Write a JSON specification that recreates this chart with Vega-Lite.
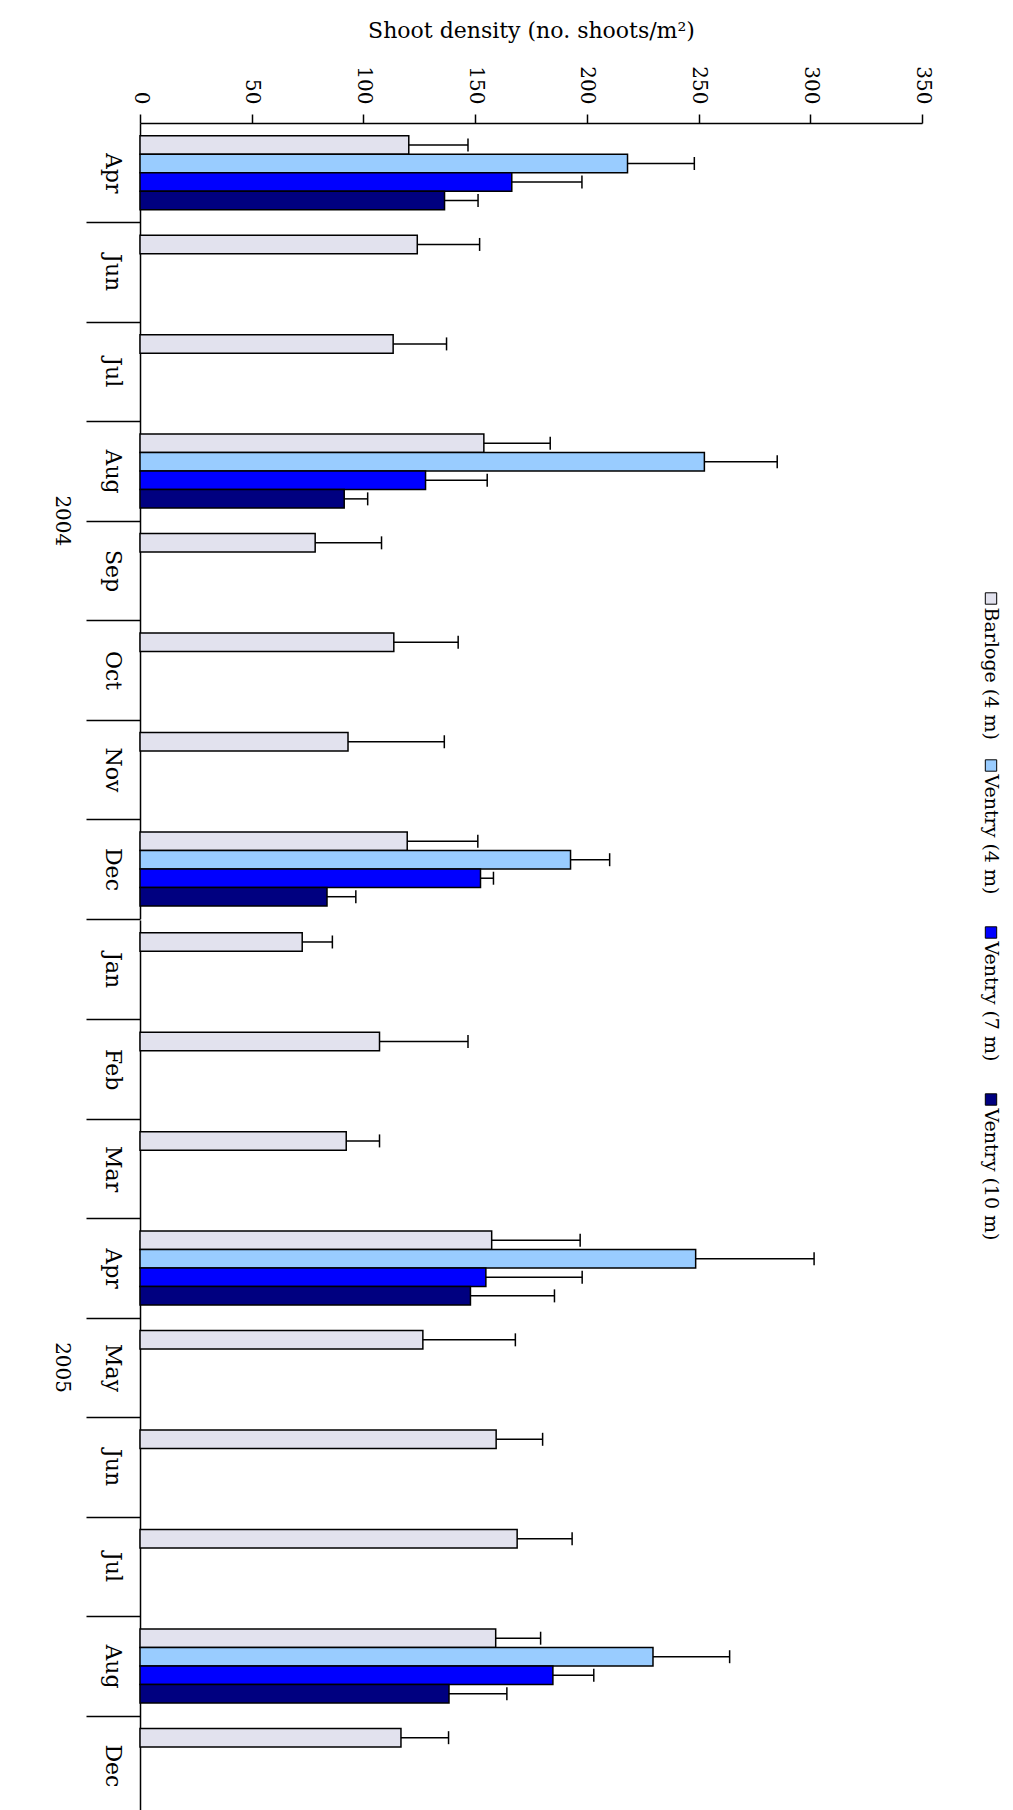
{
  "$schema": "https://vega.github.io/schema/vega-lite/v6.json",
  "background": "white",
  "padding": {"left": 52, "top": 19, "right": 0, "bottom": 0},
  "config": {
    "view": {"stroke": null},
    "font": "DejaVu Serif"
  },
  "datasets": {
    "density": [
      {"year": "2004", "month": "Apr", "site": "Barloge (4 m)", "mean": 120.3, "upper": 146.8},
      {"year": "2004", "month": "Apr", "site": "Ventry (4 m)", "mean": 218.2, "upper": 248.1},
      {"year": "2004", "month": "Apr", "site": "Ventry (7 m)", "mean": 166.4, "upper": 197.8},
      {"year": "2004", "month": "Apr", "site": "Ventry (10 m)", "mean": 136.3, "upper": 151.3},
      {"year": "2004", "month": "Jun", "site": "Barloge (4 m)", "mean": 124.1, "upper": 152.0},
      {"year": "2004", "month": "Jul", "site": "Barloge (4 m)", "mean": 113.3, "upper": 137.2},
      {"year": "2004", "month": "Aug", "site": "Barloge (4 m)", "mean": 153.9, "upper": 183.6},
      {"year": "2004", "month": "Aug", "site": "Ventry (4 m)", "mean": 252.6, "upper": 285.2},
      {"year": "2004", "month": "Aug", "site": "Ventry (7 m)", "mean": 127.8, "upper": 155.4},
      {"year": "2004", "month": "Aug", "site": "Ventry (10 m)", "mean": 91.4, "upper": 101.9},
      {"year": "2004", "month": "Sep", "site": "Barloge (4 m)", "mean": 78.4, "upper": 108.1},
      {"year": "2004", "month": "Oct", "site": "Barloge (4 m)", "mean": 113.6, "upper": 142.4},
      {"year": "2004", "month": "Nov", "site": "Barloge (4 m)", "mean": 93.1, "upper": 136.2},
      {"year": "2004", "month": "Dec", "site": "Barloge (4 m)", "mean": 119.6, "upper": 151.2},
      {"year": "2004", "month": "Dec", "site": "Ventry (4 m)", "mean": 192.7, "upper": 210.2},
      {"year": "2004", "month": "Dec", "site": "Ventry (7 m)", "mean": 152.4, "upper": 158.2},
      {"year": "2004", "month": "Dec", "site": "Ventry (10 m)", "mean": 83.7, "upper": 96.6},
      {"year": "2005", "month": "Jan", "site": "Barloge (4 m)", "mean": 72.6, "upper": 86.1},
      {"year": "2005", "month": "Feb", "site": "Barloge (4 m)", "mean": 107.2, "upper": 146.8},
      {"year": "2005", "month": "Mar", "site": "Barloge (4 m)", "mean": 92.3, "upper": 107.2},
      {"year": "2005", "month": "Apr", "site": "Barloge (4 m)", "mean": 157.4, "upper": 197.0},
      {"year": "2005", "month": "Apr", "site": "Ventry (4 m)", "mean": 248.7, "upper": 301.7},
      {"year": "2005", "month": "Apr", "site": "Ventry (7 m)", "mean": 154.8, "upper": 197.9},
      {"year": "2005", "month": "Apr", "site": "Ventry (10 m)", "mean": 147.9, "upper": 185.5},
      {"year": "2005", "month": "May", "site": "Barloge (4 m)", "mean": 126.6, "upper": 168.0},
      {"year": "2005", "month": "Jun", "site": "Barloge (4 m)", "mean": 159.4, "upper": 180.2},
      {"year": "2005", "month": "Jul", "site": "Barloge (4 m)", "mean": 168.8, "upper": 193.4},
      {"year": "2005", "month": "Aug", "site": "Barloge (4 m)", "mean": 159.2, "upper": 179.3},
      {"year": "2005", "month": "Aug", "site": "Ventry (4 m)", "mean": 229.6, "upper": 263.9},
      {"year": "2005", "month": "Aug", "site": "Ventry (7 m)", "mean": 184.8, "upper": 203.1},
      {"year": "2005", "month": "Aug", "site": "Ventry (10 m)", "mean": 138.3, "upper": 164.2},
      {"year": "2005", "month": "Dec", "site": "Barloge (4 m)", "mean": 116.8, "upper": 138.1}
    ],
    "legendItems": [
      {"site": "Barloge (4 m)"},
      {"site": "Ventry (4 m)"},
      {"site": "Ventry (7 m)"},
      {"site": "Ventry (10 m)"}
    ]
  },
  "hconcat": [
    {
      "data": {"name": "density"},
      "facet": {
        "row": {
          "field": "year", "type": "nominal", "title": null,
          "header": {
            "labelAngle": 90, "labelOrient": "left", "labelAlign": "center", "labelBaseline": "middle",
            "labelPadding": 3, "labelFont": "DejaVu Serif", "labelFontSize": 20, "labelColor": "black"
          }
        }
      },
      "spacing": {"row": 0},
      "resolve": {"scale": {"y": "independent"}},
      "spec": {
        "width": 782,
        "height": {"step": 18.5},
        "layer": [
          {
            "mark": {"type": "bar", "stroke": "black", "strokeWidth": 1.5},
            "encoding": {
              "y": {
                "field": "month", "type": "nominal", "sort": null,
                "scale": {"paddingInner": 0.256, "paddingOuter": 0.128},
                "axis": {
                  "orient": "left", "title": null, "tickSize": 54, "tickOffset": 49.73, "labelOffset": -49.73,
                  "tickColor": "black", "tickWidth": 1.5, "domainColor": "black", "domainWidth": 1.5,
                  "labelAngle": 90, "labelAlign": "center", "labelBaseline": "middle",
                  "labelPadding": -26, "labelFont": "DejaVu Serif", "labelFontSize": 22, "labelColor": "black"
                }
              },
              "yOffset": {
                "field": "site", "type": "nominal",
                "scale": {"domain": ["Barloge (4 m)", "Ventry (4 m)", "Ventry (7 m)", "Ventry (10 m)"]}
              },
              "x": {
                "field": "mean", "type": "quantitative",
                "scale": {"domain": [0, 350], "nice": false},
                "axis": {
                  "orient": "top", "values": [0, 50, 100, 150, 200, 250, 300, 350], "grid": false,
                  "labelAngle": 90, "labelAlign": "right", "labelBaseline": "middle", "labelPadding": 10,
                  "tickSize": 9, "tickColor": "black", "tickWidth": 1.5, "domainColor": "black", "domainWidth": 1.5,
                  "labelFont": "DejaVu Serif", "labelFontSize": 20, "labelColor": "black",
                  "title": "Shoot density (no. shoots/m²)", "titleFont": "DejaVu Serif", "titleFontSize": 22,
                  "titleFontWeight": "normal", "titleColor": "black", "titlePadding": 23
                }
              },
              "color": {
                "field": "site", "type": "nominal",
                "scale": {"domain": ["Barloge (4 m)", "Ventry (4 m)", "Ventry (7 m)", "Ventry (10 m)"], "range": ["#e2e2ee", "#99ccff", "#0000ff", "#000080"]},
                "legend": null
              }
            }
          },
          {
            "mark": {"type": "rule", "color": "black", "strokeWidth": 1.5},
            "encoding": {
              "y": {"field": "month", "type": "nominal", "sort": null},
              "yOffset": {"field": "site", "type": "nominal"},
              "x": {"field": "mean", "type": "quantitative"},
              "x2": {"field": "upper"}
            }
          },
          {
            "mark": {"type": "point", "shape": "stroke", "angle": 90, "size": 169, "strokeWidth": 1.5, "color": "black", "filled": false, "opacity": 1},
            "encoding": {
              "y": {"field": "month", "type": "nominal", "sort": null},
              "yOffset": {"field": "site", "type": "nominal"},
              "x": {"field": "upper", "type": "quantitative"}
            }
          }
        ]
      }
    },
    {
      "data": {"name": "legendItems"},
      "width": 30,
      "height": 1692,
      "layer": [
        {
          "mark": {"type": "point", "shape": "square", "size": 130, "stroke": "black", "strokeWidth": 1, "filled": true, "opacity": 1},
          "encoding": {
            "y": {
              "field": "site", "type": "nominal",
              "scale": {"type": "point", "domain": ["Barloge (4 m)", "Ventry (4 m)", "Ventry (7 m)", "Ventry (10 m)"], "range": [475.5, 976.5], "padding": 0},
              "axis": null
            },
            "color": {"field": "site", "type": "nominal", "legend": null}
          }
        },
        {
          "mark": {"type": "text", "angle": 90, "align": "left", "baseline": "middle", "dx": 9, "font": "DejaVu Serif", "fontSize": 19, "color": "black"},
          "encoding": {
            "y": {"field": "site", "type": "nominal", "axis": null},
            "text": {"field": "site"}
          }
        }
      ]
    }
  ],
  "spacing": 44
}
